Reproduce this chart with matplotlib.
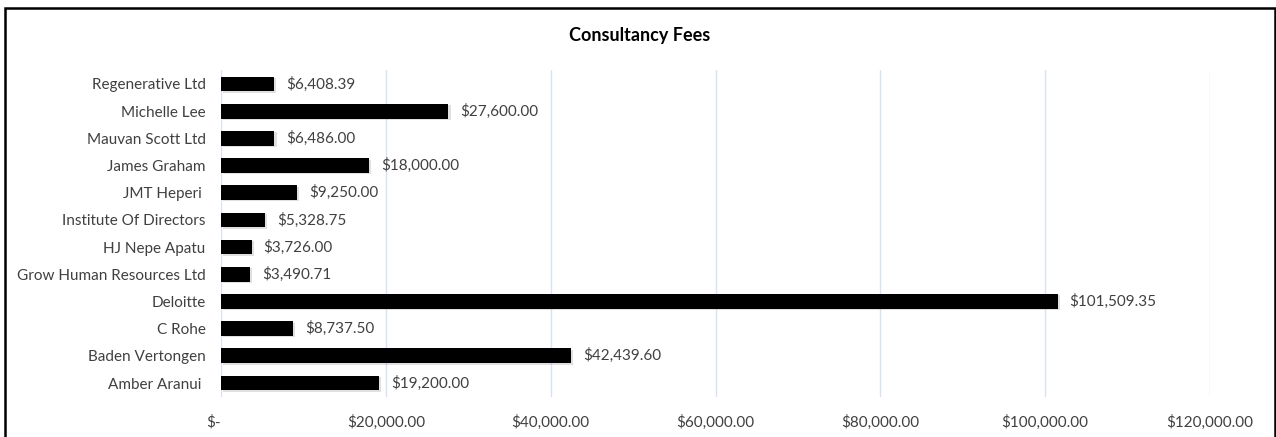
import matplotlib.pyplot as plt
from matplotlib.patches import Rectangle
from matplotlib.ticker import FuncFormatter

plt.rcParams["font.family"] = ["Lato", "DejaVu Sans"]

# ------------------- #
# Data (bottom to top, as drawn)

vendors = [
    "Amber Aranui ",
    "Baden Vertongen",
    "C Rohe",
    "Deloitte",
    "Grow Human Resources Ltd",
    "HJ Nepe Apatu",
    "Institute Of Directors",
    "JMT Heperi ",
    "James Graham",
    "Mauvan Scott Ltd",
    "Michelle Lee",
    "Regenerative Ltd",
]
fees = [
    19200.00,
    42439.60,
    8737.50,
    101509.35,
    3490.71,
    3726.00,
    5328.75,
    9250.00,
    18000.00,
    6486.00,
    27600.00,
    6408.39,
]
x_ticks = [0, 20000, 40000, 60000, 80000, 100000, 120000]

text_color = "#404040"
grid_color = "#d9e2f3"


def money(v, _pos=None):
    if v == 0:
        return "$-"
    return f"${v:,.2f}"


fig = plt.figure(figsize=(12.76, 4.37), dpi=100)
ax = fig.add_axes([221 / 1276, 1 - 396.6 / 437, (1210 - 221) / 1276, (396.6 - 70.4) / 437])

ypos = range(len(vendors))
# soft shadow under bars, like the Excel style
ax.barh([y - 0.05 for y in ypos], fees, height=0.54, left=250, color="#000000", alpha=0.12, zorder=2)
ax.barh(ypos, fees, height=0.54, color="#000000", zorder=3)

for y, v in zip(ypos, fees):
    ax.text(v + 1450, y, money(v), va="center", ha="left", fontsize=11, color=text_color, zorder=4)

ax.set_xlim(0, 120000)
ax.set_ylim(-0.5, len(vendors) - 0.5)
ax.set_xticks(x_ticks)
ax.xaxis.set_major_formatter(FuncFormatter(money))
ax.set_yticks(list(ypos))
ax.set_yticklabels(vendors)
ax.tick_params(axis="both", length=0, labelsize=11, labelcolor=text_color)
ax.tick_params(axis="x", pad=13)
ax.tick_params(axis="y", pad=11)
ax.xaxis.get_majorticklabels()[0].set_horizontalalignment("right")
ax.grid(axis="x", color=grid_color, linewidth=1, zorder=0)
ax.set_axisbelow(True)
for s in ax.spines.values():
    s.set_visible(False)

fig.text(640 / 1276, 1 - 35 / 437, "Consultancy Fees", ha="center", va="center",
         fontsize=13, fontweight="bold", color="#000000")

# chart border
fig.patches.append(Rectangle((5 / 1276, -0.05), (1275 - 5) / 1276, 1.05 - 7.5 / 437,
                             transform=fig.transFigure, fill=False, edgecolor="#000000", linewidth=1.8))

fig.savefig("out.png", dpi=100)
